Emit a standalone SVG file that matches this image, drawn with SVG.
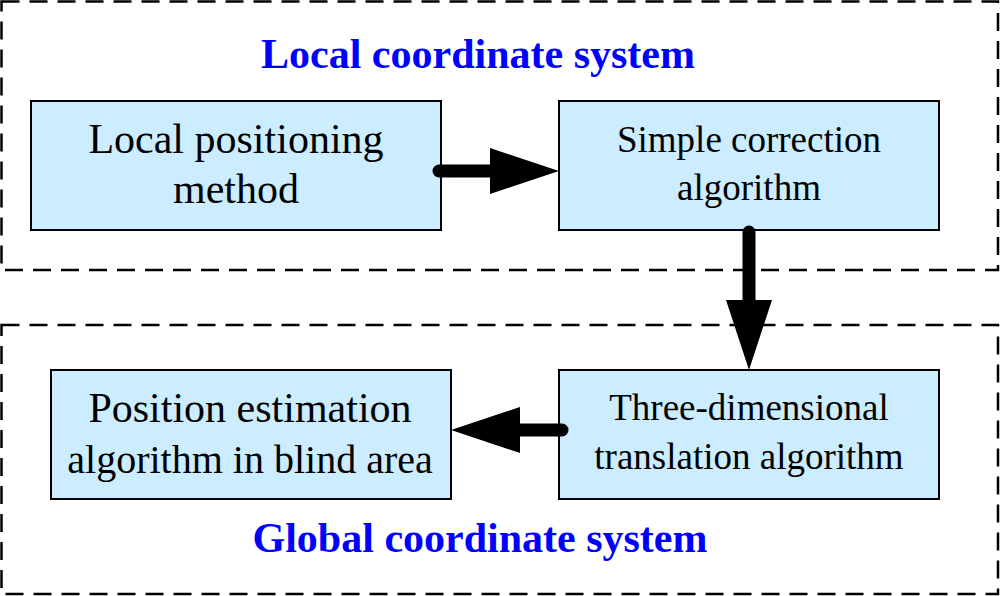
<svg xmlns="http://www.w3.org/2000/svg" width="1000" height="596" viewBox="0 0 1000 596">
<style>
.region{fill:none;stroke:#000;stroke-width:2.5;stroke-dasharray:18 10}
.box{fill:#CCECFF;stroke:#000;stroke-width:2}
.t{font-family:"Liberation Serif","Times New Roman",serif;fill:#000;text-anchor:middle}
.title{font-family:"Liberation Serif","Times New Roman",serif;fill:#0000FF;font-weight:bold;text-anchor:middle;font-size:42px}
.line{stroke:#000;stroke-width:13;stroke-linecap:round;fill:none}
.head{fill:#000}
</style>
<rect width="1000" height="596" fill="#fff"/>
<g id="local-region">
<rect class="region" x="1.5" y="1.5" width="996.5" height="268.5"/>
<text class="title" x="478" y="68">Local coordinate system</text>
</g>
<g id="global-region">
<rect class="region" x="1.5" y="325" width="996.5" height="269"/>
<text class="title" x="480" y="552">Global coordinate system</text>
</g>
<g id="local-positioning">
<rect class="box" x="31" y="101" width="410" height="129"/>
<text class="t" font-size="42" x="236" y="153">Local positioning</text>
<text class="t" font-size="42" x="236" y="203">method</text>
</g>
<g id="simple-correction">
<rect class="box" x="559" y="101" width="380" height="129"/>
<text class="t" font-size="37" x="749" y="152">Simple correction</text>
<text class="t" font-size="37" x="749" y="200">algorithm</text>
</g>
<g id="three-dimensional">
<rect class="box" x="559" y="370" width="380" height="129"/>
<text class="t" font-size="37" x="749" y="420">Three-dimensional</text>
<text class="t" font-size="37" x="749" y="469">translation algorithm</text>
</g>
<g id="position-estimation">
<rect class="box" x="51" y="370" width="400" height="129"/>
<text class="t" font-size="42" x="250" y="422">Position estimation</text>
<text class="t" font-size="40" x="250" y="473">algorithm in blind area</text>
</g>
<g id="connectors">
<line class="line" x1="439" y1="171" x2="495" y2="171"/>
<polygon class="head" points="490,148 559,171 490,194"/>
<line class="line" x1="749" y1="232" x2="749" y2="305"/>
<polygon class="head" points="726,300 772,300 749,370"/>
<line class="line" x1="562" y1="430" x2="515" y2="430"/>
<polygon class="head" points="520,407 451,430 520,453"/>
</g>
</svg>
